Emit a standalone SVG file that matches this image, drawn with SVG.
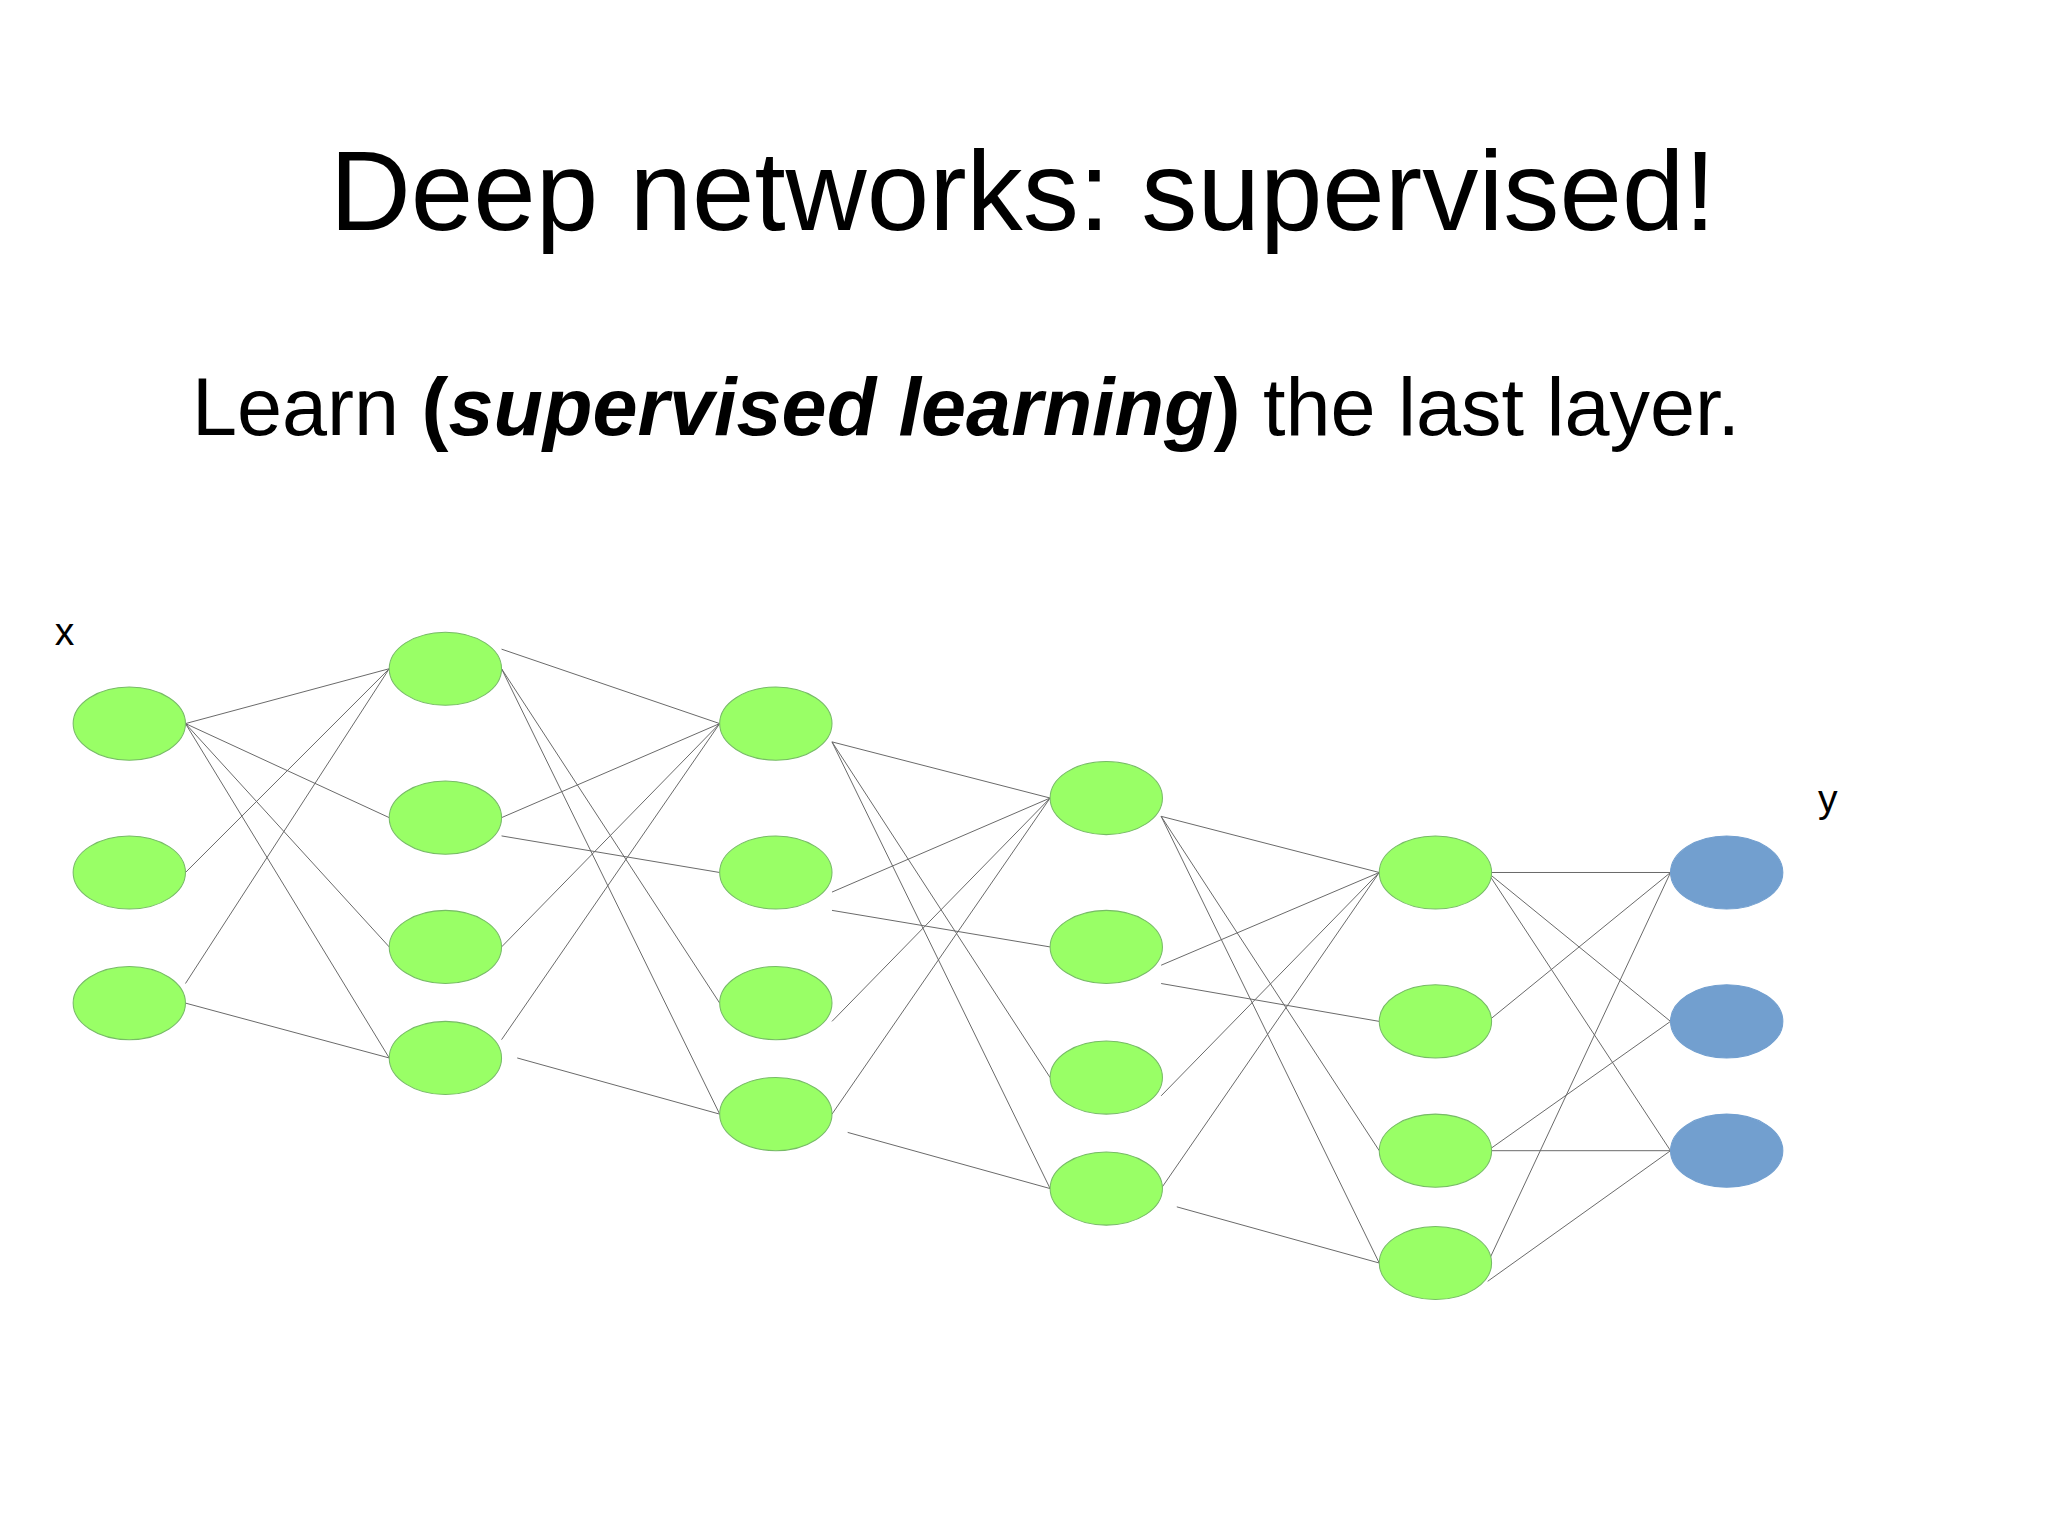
<svg xmlns="http://www.w3.org/2000/svg" width="2048" height="1535" viewBox="0 0 2048 1535">
<style>
.n{fill:#99ff66;stroke:#77bb66;stroke-width:0.8}
.o{fill:#729fcf;stroke:#729fcf;stroke-width:0.8}
.e line{stroke:#666;stroke-width:0.75}
text{font-family:"Liberation Sans",Arial,sans-serif;fill:#000}
</style>
<rect width="2048" height="1535" fill="#fff"/>
<g transform="scale(1.30612)">
<text x="783" y="176" font-size="86" text-anchor="middle">Deep networks: supervised!</text>
<text x="147" y="333" font-size="62">Learn <tspan font-weight="bold">(<tspan font-style="italic">supervised learning</tspan>)</tspan> the last layer.</text>
<text x="42" y="494" font-size="30">x</text>
<text x="1392" y="622" font-size="30">y</text>
<g id="connectors" class="e">
<line x1="142" y1="554" x2="298" y2="512"/><line x1="142" y1="554" x2="298" y2="626"/><line x1="142" y1="554" x2="298" y2="725"/><line x1="142" y1="554" x2="298" y2="810"/><line x1="142" y1="668" x2="298" y2="512"/><line x1="142" y1="753" x2="298" y2="512"/><line x1="142" y1="768" x2="298" y2="810"/>
<line x1="384" y1="497" x2="551" y2="554"/><line x1="384" y1="512" x2="551" y2="768"/><line x1="384" y1="512" x2="551" y2="853"/><line x1="384" y1="626" x2="551" y2="554"/><line x1="384" y1="640" x2="551" y2="668"/><line x1="384" y1="725" x2="551" y2="554"/><line x1="384" y1="796" x2="551" y2="554"/><line x1="396" y1="810" x2="551" y2="853"/>
<line x1="637" y1="568" x2="804" y2="611"/><line x1="637" y1="568" x2="804" y2="825"/><line x1="637" y1="568" x2="804" y2="910"/><line x1="637" y1="683" x2="804" y2="611"/><line x1="637" y1="697" x2="804" y2="725"/><line x1="637" y1="782" x2="804" y2="611"/><line x1="637" y1="853" x2="804" y2="611"/><line x1="649" y1="867" x2="804" y2="910"/>
<line x1="889" y1="625" x2="1056" y2="668"/><line x1="889" y1="625" x2="1056" y2="881"/><line x1="889" y1="625" x2="1056" y2="967"/><line x1="889" y1="739" x2="1056" y2="668"/><line x1="889" y1="753" x2="1056" y2="782"/><line x1="889" y1="839" x2="1056" y2="668"/><line x1="889" y1="910" x2="1056" y2="668"/><line x1="901" y1="924" x2="1056" y2="967"/>
<line x1="1139" y1="668" x2="1279" y2="668"/><line x1="1139" y1="668" x2="1279" y2="782"/><line x1="1139" y1="668" x2="1279" y2="881"/><line x1="1139" y1="782" x2="1279" y2="668"/><line x1="1139" y1="881" x2="1279" y2="782"/><line x1="1139" y1="881" x2="1279" y2="881"/><line x1="1139" y1="967" x2="1279" y2="668"/><line x1="1139" y1="981" x2="1279" y2="881"/>
</g>
<g id="l0a"><ellipse class="n" cx="99" cy="554" rx="43" ry="28"/></g>
<g id="l0b"><ellipse class="n" cx="99" cy="668" rx="43" ry="28"/></g>
<g id="l0c"><ellipse class="n" cx="99" cy="768" rx="43" ry="28"/></g>
<g id="l1a"><ellipse class="n" cx="341" cy="512" rx="43" ry="28"/></g>
<g id="l1b"><ellipse class="n" cx="341" cy="626" rx="43" ry="28"/></g>
<g id="l1c"><ellipse class="n" cx="341" cy="725" rx="43" ry="28"/></g>
<g id="l1d"><ellipse class="n" cx="341" cy="810" rx="43" ry="28"/></g>
<g id="l2a"><ellipse class="n" cx="594" cy="554" rx="43" ry="28"/></g>
<g id="l2b"><ellipse class="n" cx="594" cy="668" rx="43" ry="28"/></g>
<g id="l2c"><ellipse class="n" cx="594" cy="768" rx="43" ry="28"/></g>
<g id="l2d"><ellipse class="n" cx="594" cy="853" rx="43" ry="28"/></g>
<g id="l3a"><ellipse class="n" cx="847" cy="611" rx="43" ry="28"/></g>
<g id="l3b"><ellipse class="n" cx="847" cy="725" rx="43" ry="28"/></g>
<g id="l3c"><ellipse class="n" cx="847" cy="825" rx="43" ry="28"/></g>
<g id="l3d"><ellipse class="n" cx="847" cy="910" rx="43" ry="28"/></g>
<g id="l4a"><ellipse class="n" cx="1099" cy="668" rx="43" ry="28"/></g>
<g id="l4b"><ellipse class="n" cx="1099" cy="782" rx="43" ry="28"/></g>
<g id="l4c"><ellipse class="n" cx="1099" cy="881" rx="43" ry="28"/></g>
<g id="l4d"><ellipse class="n" cx="1099" cy="967" rx="43" ry="28"/></g>
<g id="oa"><ellipse class="o" cx="1322" cy="668" rx="43" ry="28"/></g>
<g id="ob"><ellipse class="o" cx="1322" cy="782" rx="43" ry="28"/></g>
<g id="oc"><ellipse class="o" cx="1322" cy="881" rx="43" ry="28"/></g>
</g>
</svg>
